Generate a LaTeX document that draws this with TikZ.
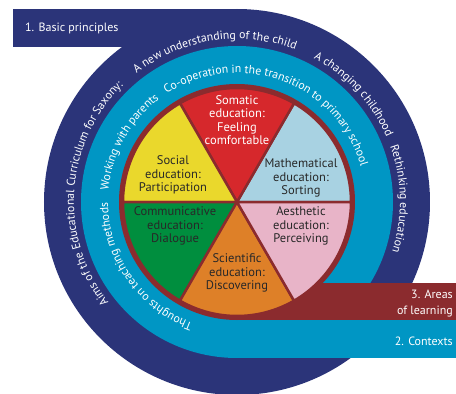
\documentclass[tikz,border=0pt]{standalone}
\usepackage{fontspec}
\setmainfont{PT Sans}
\usetikzlibrary{decorations.text}
\definecolor{navy}{RGB}{43,52,121}
\definecolor{ctxblue}{RGB}{0,150,196}
\definecolor{rim}{RGB}{139,43,46}
\definecolor{somatic}{RGB}{214,40,44}
\definecolor{maths}{RGB}{168,210,226}
\definecolor{aesthetic}{RGB}{232,180,200}
\definecolor{science}{RGB}{222,128,40}
\definecolor{commun}{RGB}{0,142,62}
\definecolor{social}{RGB}{234,216,44}
\definecolor{pietext}{RGB}{40,40,40}
\newcommand{\ringfont}{\fontsize{11.8}{13}\selectfont}

\begin{document}
\begin{tikzpicture}[x=1pt, y=1pt,
  area/.style={align=center, font=\fontsize{12.5}{13.5}\selectfont, text=pietext, inner sep=0pt},
  tab/.style={font=\fontsize{12}{16}\selectfont, text=white, inner sep=0pt},
  ring/.style={decorate, decoration={text along path, text color=white, text={|\ringfont|#1}}}]
\useasboundingbox (-237,-192) rectangle (219,202);

% 1. basic principles
\fill[navy] (-224,155) rectangle (0,193);
\fill[navy] (0,0) circle (193);
% 2. contexts
\fill[ctxblue] (0,-118) rectangle (219,-156);
\fill[ctxblue] (0,0) circle (156);
% 3. areas of learning
\fill[rim] (0,-81) rectangle (219,-118);
\fill[rim] (0,0) circle (118);

% the six areas
\begin{scope}[draw=rim, line width=2.5pt, line join=round]
\filldraw[fill=maths] (0,0) -- (0:114) arc[start angle=0, end angle=60, radius=114] -- cycle;
\filldraw[fill=somatic] (0,0) -- (60:114) arc[start angle=60, end angle=120, radius=114] -- cycle;
\filldraw[fill=social] (0,0) -- (120:114) arc[start angle=120, end angle=180, radius=114] -- cycle;
\filldraw[fill=commun] (0,0) -- (180:114) arc[start angle=180, end angle=240, radius=114] -- cycle;
\filldraw[fill=science] (0,0) -- (240:114) arc[start angle=240, end angle=300, radius=114] -- cycle;
\filldraw[fill=aesthetic] (0,0) -- (300:114) arc[start angle=300, end angle=360, radius=114] -- cycle;
\end{scope}

\node[area, text=white] (somaticed) at (0,82) {Somatic\\education:\\Feeling\\comfortable};
\node[area] (socialed) at (-64,27) {Social\\education:\\Participation};
\node[area] (mathsed) at (64,24) {Mathematical\\education:\\Sorting};
\node[area] (communed) at (-62,-24) {Communicative\\education:\\Dialogue};
\node[area] (aestheticed) at (64,-24) {Aesthetic\\education:\\Perceiving};
\node[area] (scienceed) at (0,-71) {Scientific\\education:\\Discovering};

% band labels
\node[tab, anchor=base west] (basic) at (-212,170) {1. Basic principles};
\node[tab, anchor=base east] (contexts) at (216,-143) {2. Contexts};
\node[tab, anchor=north east, align=right] (areas) at (216,-88) {3. Areas\\of learning};

% text round the rings
\path[ring={Aims of the Educational Curriculum for Saxony:}] (218:163) arc[start angle=218, end angle=100, radius=163];
\path[ring={A new understanding of the child}] (128:163) arc[start angle=128, end angle=30, radius=163];
\path[ring={A changing childhood}] (62:163) arc[start angle=62, end angle=0, radius=163];
\path[ring={Rethinking education}] (20:163) arc[start angle=20, end angle=-60, radius=163];
\path[ring={Thoughts on teaching methods}] (250:129) arc[start angle=250, end angle=150, radius=129];
\path[ring={Working with parents}] (175:129) arc[start angle=175, end angle=100, radius=129];
\path[ring={Co-operation in the transition to primary school}] (123:129) arc[start angle=123, end angle=-20, radius=129];
\end{tikzpicture}
\end{document}
